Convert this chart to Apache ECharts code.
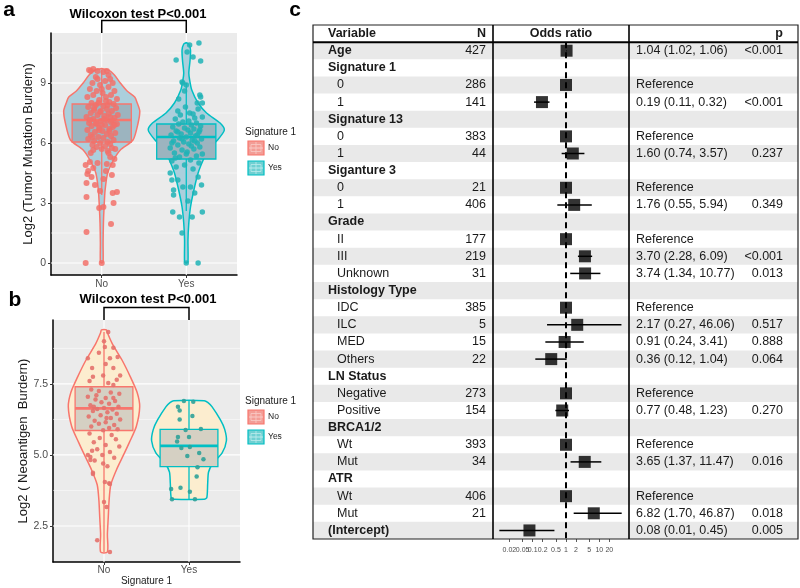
<!DOCTYPE html>
<html>
<head>
<meta charset="utf-8">
<script src="https://cdn.jsdelivr.net/npm/echarts@6/dist/echarts.min.js"></script>
<style>
  html, body { margin: 0; padding: 0; background: #fff; }
  #main { width: 800px; height: 588px; }
</style>
</head>
<body>
<div id="main"></div>
<script>
// ---------------- data ----------------
const groups = ["No", "Yes"];

// panel a : Log2 (Tumor Mutation Burden)
const tmbTicks = [0, 3, 6, 9];
const tmbMinor = [1.5, 4.5, 7.5, 10.5];
// violin outline: [value, half width]
const tmbViolinNo = [[0, 0], [0.05, 0.016], [1.0, 0.016], [2.0, 0.02], [2.8, 0.028], [3.65, 0.04], [4.5, 0.07],
  [5.15, 0.14], [5.65, 0.22], [6.15, 0.37], [7.0, 0.43], [7.6, 0.45], [8.0, 0.42], [8.3, 0.39],
  [8.6, 0.3], [9.0, 0.22], [9.4, 0.15], [9.65, 0.08], [9.72, 0]];
const tmbViolinYes = [[0, 0], [0.05, 0.02], [1.15, 0.02], [2.0, 0.03], [2.8, 0.05], [3.65, 0.09], [4.5, 0.14],
  [5.15, 0.2], [5.75, 0.27], [6.15, 0.37], [6.65, 0.45], [7.0, 0.4], [7.5, 0.24], [8.0, 0.14],
  [8.65, 0.065], [9.15, 0.04], [9.5, 0.03], [10.15, 0.045], [10.65, 0.05], [10.95, 0.03], [11.02, 0]];
// box: [min, q1, median, q3, max]
const tmbBoxNo = [3.4, 6.05, 7.15, 7.95, 9.65];
const tmbBoxYes = [2.6, 5.2, 6.3, 6.95, 9.0];
// jittered points: [x offset, value]
const tmbPointsNo = [
  [-0.19, 0.0], [0.0, 0.0], [-0.18, 1.55], [0.11, 1.95], [-0.03, 2.75], [0.02, 2.8], [-0.18, 3.3], [0.13, 3.5],
  [0.18, 3.55], [0.14, 3.0], [-0.18, 4.0], [-0.12, 4.3], [-0.16, 4.6], [-0.19, 4.9], [-0.14, 5.05], [0.1, 5.3],
  [0.12, 4.4], [-0.08, 3.9], [0.02, 4.2], [-0.02, 3.6], [0.05, 4.6], [-0.05, 5.0], [0.15, 5.2], [-0.13, 5.5],
  [0.08, 5.5], [0.16, 5.7], [-0.17, 4.45], [-0.1, 4.75], [0.06, 4.95], [0.13, 4.9],
  [-0.1, 9.7], [-0.05, 9.6], [0.02, 9.55], [0.06, 9.6], [-0.15, 9.65], [-0.13, 9.6], [0.1, 9.2], [-0.07, 9.3],
  [0.13, 9.0], [-0.11, 9.0], [0.04, 9.1], [-0.02, 8.9], [0.08, 8.8], [-0.14, 8.7], [0.15, 8.6], [-0.06, 8.6],
  [0.01, 8.5], [0.11, 8.4], [-0.1, 8.4], [-0.17, 8.3], [0.05, 8.3], [0.18, 8.2], [-0.03, 8.15], [0.09, 8.05],
  [-0.12, 8.0], [0.14, 7.95], [-0.07, 7.9], [0.02, 7.85], [-0.16, 7.8], [0.17, 7.75], [0.06, 7.7], [-0.09, 7.65],
  [0.12, 7.6], [-0.02, 7.55], [-0.13, 7.5], [0.08, 7.45], [0.19, 7.4], [-0.05, 7.4], [0.03, 7.35], [-0.18, 7.3],
  [0.15, 7.25], [-0.1, 7.2], [0.06, 7.15], [-0.01, 7.1], [0.11, 7.05], [-0.15, 7.0], [0.18, 6.95], [-0.06, 6.95],
  [0.04, 6.9], [-0.12, 6.85], [0.13, 6.8], [-0.03, 6.75], [0.09, 6.7], [-0.17, 6.65], [0.01, 6.6], [-0.08, 6.55],
  [0.16, 6.5], [0.06, 6.45], [-0.13, 6.4], [0.11, 6.35], [-0.04, 6.3], [0.02, 6.25], [-0.16, 6.2], [0.14, 6.15],
  [-0.09, 6.1], [0.07, 6.05], [-0.02, 6.0], [0.1, 5.95], [-0.11, 5.9], [0.04, 5.85], [-0.06, 5.8], [0.12, 5.75],
  [0.0, 5.7], [-0.1, 5.65], [0.07, 5.6], [-0.04, 8.0], [0.07, 7.9], [-0.01, 7.6], [0.1, 7.3], [-0.07, 7.0],
  [0.0, 6.9], [0.05, 8.1], [-0.09, 7.75], [0.03, 7.2], [-0.03, 6.65], [0.13, 7.1], [-0.14, 7.15], [0.09, 6.6],
  [-0.11, 6.3], [0.15, 6.9], [0.0, 8.7], [-0.05, 9.2], [0.08, 9.4]
];
const tmbPointsYes = [
  [0.04, 10.9], [0.15, 11.0], [-0.12, 10.15], [0.08, 10.3], [0.17, 10.1], [0.01, 10.55], [-0.05, 9.05], [0.0, 8.9],
  [0.17, 8.3], [0.13, 8.0], [-0.04, 9.0], [0.16, 8.4], [0.19, 8.0], [-0.02, 8.6], [-0.09, 8.2],
  [-0.16, 2.55], [0.19, 2.55], [-0.08, 2.3], [0.07, 2.3], [-0.05, 1.5], [0.14, 0.0], [0.0, 0.0], [-0.15, 3.4],
  [-0.04, 3.8], [0.05, 3.8], [0.18, 3.9], [-0.17, 4.15], [-0.19, 4.5], [0.14, 4.3], [-0.15, 3.65], [-0.1, 4.15],
  [0.02, 3.1], [0.1, 3.5],
  [-0.12, 4.8], [0.08, 4.7], [-0.02, 4.9], [0.15, 5.0], [-0.17, 5.1], [0.05, 5.15], [-0.08, 5.3], [0.12, 5.35],
  [0.19, 5.45], [-0.14, 5.5], [0.01, 5.55], [-0.05, 5.65], [0.09, 5.7], [-0.19, 5.75], [0.16, 5.8], [-0.1, 5.9],
  [0.03, 5.95], [0.13, 6.0], [-0.03, 6.05], [-0.15, 6.1], [0.07, 6.15], [0.18, 6.2], [-0.08, 6.25], [0.0, 6.3],
  [0.11, 6.35], [-0.18, 6.4], [-0.06, 6.45], [0.05, 6.5], [0.15, 6.55], [-0.12, 6.6], [0.02, 6.65], [0.09, 6.7],
  [-0.02, 6.75], [-0.16, 6.8], [0.17, 6.85], [0.06, 6.9], [-0.09, 6.95], [0.12, 7.0], [-0.04, 7.05], [0.03, 7.1],
  [-0.13, 7.2], [0.1, 7.25], [0.19, 7.3], [-0.07, 7.4], [0.04, 7.5], [-0.1, 7.6], [0.14, 7.7], [-0.01, 7.8],
  [0.08, 7.45], [-0.05, 6.2], [0.13, 6.4], [-0.1, 6.55], [0.06, 5.85], [-0.13, 5.25], [0.1, 6.1], [0.0, 5.45],
  [-0.17, 6.0], [0.16, 6.65]
];

// panel b : Log2 (Neoantigen Burden)
const neoTicks = [2.5, 5.0, 7.5];
const neoMinor = [3.75, 6.25, 8.75];
const neoViolinNo = [[1.58, 0.04], [2.2, 0.04], [2.8, 0.05], [3.4, 0.06], [3.95, 0.08], [4.5, 0.15], [5.0, 0.23],
  [5.45, 0.3], [6.0, 0.38], [6.7, 0.42], [7.2, 0.39], [7.75, 0.31], [8.35, 0.21], [8.9, 0.1], [9.3, 0.04], [9.4, 0.03]];
const neoViolinYes = [[3.44, 0.18], [3.5, 0.21], [4.0, 0.22], [4.4, 0.23], [4.7, 0.28], [5.07, 0.39], [5.5, 0.44],
  [5.9, 0.42], [6.23, 0.37], [6.7, 0.27], [6.85, 0.22], [6.91, 0.18]];
const neoBoxNo = [1.58, 5.86, 6.64, 7.4, 9.33];
const neoBoxYes = [3.44, 4.59, 5.32, 5.9, 6.91];
const neoPointsNo = [
  [-0.08, 2.0], [0.07, 1.58], [0.03, 3.17], [0.0, 3.34], [0.01, 4.05], [0.06, 4.0], [-0.13, 4.33], [-0.19, 5.0],
  [-0.16, 4.82], [-0.11, 4.8], [-0.01, 4.7], [0.04, 4.6], [0.07, 3.98], [-0.16, 4.93], [-0.13, 4.37],
  [0.05, 9.33], [0.01, 8.8], [0.11, 8.77], [-0.19, 8.4], [0.07, 8.4], [0.16, 8.45], [-0.14, 8.06], [0.11, 8.06],
  [0.19, 7.8], [-0.13, 7.75], [-0.01, 7.8], [0.05, 7.53], [0.11, 7.46], [-0.06, 8.6], [0.02, 8.2], [-0.17, 7.6],
  [0.15, 7.65], [0.0, 9.0],
  [-0.15, 7.3], [-0.06, 7.25], [0.08, 7.2], [0.18, 7.15], [-0.19, 7.05], [0.02, 7.0], [-0.1, 6.95], [0.13, 6.9],
  [-0.03, 6.85], [0.06, 6.8], [-0.16, 6.75], [0.17, 6.7], [0.0, 6.65], [-0.08, 6.62], [0.1, 6.6], [-0.13, 6.55],
  [0.04, 6.5], [0.15, 6.45], [-0.04, 6.4], [-0.18, 6.35], [0.08, 6.3], [0.19, 6.25], [-0.11, 6.2], [0.02, 6.15],
  [-0.06, 6.1], [0.12, 6.05], [-0.15, 6.0], [0.06, 5.95], [0.16, 5.9], [-0.01, 5.87], [-0.09, 7.1], [0.11, 7.0],
  [-0.12, 6.7], [0.03, 6.3],
  [-0.17, 5.75], [0.09, 5.7], [-0.05, 5.6], [0.14, 5.55], [-0.12, 5.45], [0.02, 5.35], [0.18, 5.3], [-0.08, 5.2],
  [0.07, 5.1], [-0.02, 5.0], [-0.14, 5.15], [0.12, 4.9]
];
const neoPointsYes = [
  [-0.13, 6.7], [-0.11, 6.56], [-0.11, 6.25], [0.04, 6.37], [-0.06, 6.9], [-0.04, 5.88], [0.14, 5.91], [-0.13, 5.63],
  [0.0, 5.63], [-0.14, 5.47], [-0.09, 5.24], [0.01, 5.28], [-0.02, 4.96], [0.17, 4.85], [0.1, 4.57], [0.09, 4.24],
  [-0.1, 3.84], [-0.21, 3.8], [0.01, 3.7], [-0.2, 3.44], [0.07, 3.44], [0.05, 6.87], [0.12, 5.07]
];

// panel c : logistic regression forest table
const forestVariable = ["Age", "Signature 1", "0", "1", "Signature 13", "0", "1", "Siganture 3", "0", "1",
  "Grade", "II", "III", "Unknown", "Histology Type", "IDC", "ILC", "MED", "Others", "LN Status",
  "Negative", "Positive", "BRCA1/2", "Wt", "Mut", "ATR", "Wt", "Mut", "(Intercept)"];
const forestHeaderRows = [0, 1, 4, 7, 10, 14, 19, 22, 25, 28];
const forestN = ["427", "", "286", "141", "", "383", "44", "", "21", "406", "", "177", "219", "31", "",
  "385", "5", "15", "22", "", "273", "154", "", "393", "34", "", "406", "21", ""];
const forestEst = [1.04, null, 1, 0.19, null, 1, 1.60, null, 1, 1.76, null, 1, 3.70, 3.74, null,
  1, 2.17, 0.91, 0.36, null, 1, 0.77, null, 1, 3.65, null, 1, 6.82, 0.08];
const forestLow = [1.02, null, null, 0.11, null, null, 0.74, null, null, 0.55, null, null, 2.28, 1.34, null,
  null, 0.27, 0.24, 0.12, null, null, 0.48, null, null, 1.37, null, null, 1.70, 0.01];
const forestHigh = [1.06, null, null, 0.32, null, null, 3.57, null, null, 5.94, null, null, 6.09, 10.77, null,
  null, 46.06, 3.41, 1.04, null, null, 1.23, null, null, 11.47, null, null, 46.87, 0.45];
const forestP = ["<0.001", "", "", "<0.001", "", "", "0.237", "", "", "0.349", "", "", "<0.001", "0.013", "",
  "", "0.517", "0.888", "0.064", "", "", "0.270", "", "", "0.016", "", "", "0.018", "0.005"];
const orTicks = [0.02, 0.05, 0.1, 0.2, 0.5, 1, 2, 5, 10, 20];
const orTickLabels = ["0.02", "0.05", "0.1", "0.2", "0.5", "1", "2", "5", "10", "20"];

// ---------------- layout / style ----------------
const FONT = '"Liberation Sans", Arial, Helvetica, sans-serif';
const RED = "#F8766D", TEAL = "#00BFC4";
const TABLE = { left: 313, top: 25, width: 485, height: 514 };
const COL = { nameX: 15, levelX: 24, nRight: 173, div1: 180, orCenter: 248, div2: 316, estX: 323, pRight: 470 };

function txt(text, x, y, align, font, fill) {
  return {
    type: "text",
    style: { text: text, x: x, y: y, align: align, verticalAlign: "middle", textAlign: align,
      textVerticalAlign: "middle", font: font, fill: fill || "#1a1a1a" }
  };
}

// ---------------- render helpers ----------------
function renderGridLine(params, api) {
  const cs = params.coordSys;
  const v = api.value(0), kind = api.value(1);
  if (kind === 2) {
    const x = api.coord([v, 5])[0];
    return { type: "line", shape: { x1: x, y1: cs.y, x2: x, y2: cs.y + cs.height },
      style: { stroke: "#fff", lineWidth: 1.1 } };
  }
  const y = api.coord([1, v])[1];
  return { type: "line", shape: { x1: cs.x, y1: y, x2: cs.x + cs.width, y2: y },
    style: { stroke: "#fff", lineWidth: kind === 0 ? 1.1 : 0.5 } };
}

function violinRenderer(profiles, fill, strokes) {
  return function (params, api) {
    const g = api.value(0);
    const prof = profiles[params.dataIndex];
    const pts = [];
    prof.forEach(function (p) { pts.push(api.coord([g + p[1], p[0]])); });
    for (let i = prof.length - 1; i >= 0; i--) pts.push(api.coord([g - prof[i][1], prof[i][0]]));
    return { type: "polygon", shape: { points: pts, smooth: 0.25 },
      style: { fill: fill, stroke: strokes[params.dataIndex], lineWidth: 1.5 } };
  };
}

function boxRenderer(halfWidth, fill, strokes) {
  return function (params, api) {
    const g = api.value(0);
    const stroke = strokes[params.dataIndex];
    const lo = api.coord([g, api.value(1)]), hi = api.coord([g, api.value(5)]);
    const q1l = api.coord([g - halfWidth, api.value(2)]), q3r = api.coord([g + halfWidth, api.value(4)]);
    const medL = api.coord([g - halfWidth, api.value(3)]), medR = api.coord([g + halfWidth, api.value(3)]);
    return {
      type: "group",
      children: [
        { type: "line", shape: { x1: lo[0], y1: lo[1], x2: hi[0], y2: hi[1] }, style: { stroke: stroke, lineWidth: 1.3 } },
        { type: "rect", shape: { x: q1l[0], y: q3r[1], width: q3r[0] - q1l[0], height: q1l[1] - q3r[1] },
          style: { fill: fill, stroke: stroke, lineWidth: 1.3 } },
        { type: "line", shape: { x1: medL[0], y1: medL[1], x2: medR[0], y2: medR[1] }, style: { stroke: stroke, lineWidth: 2.6 } }
      ]
    };
  };
}

function bracketRenderer(params, api) {
  const top = params.coordSys.y;
  const x1 = api.coord([1, 5])[0], x2 = api.coord([2, 5])[0];
  return { type: "polyline", shape: { points: [[x1, top], [x1, top - 12.5], [x2, top - 12.5], [x2, top]] },
    style: { stroke: "#000", lineWidth: 1.5, fill: null } };
}

function gridLineData(major, minor) {
  return major.map(v => [v, 0]).concat(minor.map(v => [v, 1]), [[1, 2], [2, 2]]);
}

function renderTableRow(params, api) {
  const r = api.value(1);
  const c = api.coord([0, r]);
  const y = c[1];
  const h = api.size([0, 1])[1];
  const X = v => api.coord([v, r])[0];
  const reg = "12.5px " + FONT, bold = "bold 12.5px " + FONT;
  const kids = [];
  if (r === 0) {
    kids.push(txt("Variable", X(COL.nameX), y, "left", bold), txt("N", X(COL.nRight), y, "right", bold),
      txt("Odds ratio", X(COL.orCenter), y, "center", bold), txt("p", X(COL.pRight), y, "right", bold));
  } else {
    const i = r - 1;
    if (i % 2 === 0) {
      kids.push({ type: "rect", shape: { x: c[0], y: y - h / 2, width: X(TABLE.width) - c[0], height: h },
        style: { fill: "#e9e9e9" } });
    }
    const isHead = forestHeaderRows.indexOf(i) >= 0;
    kids.push(txt(forestVariable[i], X(isHead ? COL.nameX : COL.levelX), y, "left", isHead ? bold : reg));
    kids.push(txt(forestN[i], X(COL.nRight), y, "right", reg));
    let est = "";
    if (forestLow[i] != null) est = forestEst[i].toFixed(2) + " (" + forestLow[i].toFixed(2) + ", " + forestHigh[i].toFixed(2) + ")";
    else if (forestEst[i] != null) est = "Reference";
    kids.push(txt(est, X(COL.estX), y, "left", reg));
    kids.push(txt(forestP[i], X(COL.pRight), y, "right", reg));
  }
  return { type: "group", children: kids };
}

function renderTableLines(params, api) {
  const h = api.size([0, 1])[1];
  const top = api.coord([0, 0])[1] - h / 2;
  const bottom = api.coord([0, forestVariable.length])[1] + h / 2;
  const left = api.coord([0, 0])[0], right = api.coord([TABLE.width, 0])[0];
  const d1 = api.coord([COL.div1, 0])[0], d2 = api.coord([COL.div2, 0])[0];
  return {
    type: "group",
    children: [
      { type: "rect", shape: { x: left, y: top, width: right - left, height: bottom - top },
        style: { fill: null, stroke: "#222", lineWidth: 1.2 } },
      { type: "line", shape: { x1: left, y1: top + h, x2: right, y2: top + h }, style: { stroke: "#000", lineWidth: 2 } },
      { type: "line", shape: { x1: d1, y1: top, x2: d1, y2: bottom }, style: { stroke: "#000", lineWidth: 1.6 } },
      { type: "line", shape: { x1: d2, y1: top, x2: d2, y2: bottom }, style: { stroke: "#000", lineWidth: 1.6 } }
    ]
  };
}

function renderCI(params, api) {
  const p1 = api.coord([api.value(0), api.value(2)]);
  const p2 = api.coord([api.value(1), api.value(2)]);
  return { type: "line", shape: { x1: p1[0], y1: p1[1], x2: p2[0], y2: p2[1] }, style: { stroke: "#000", lineWidth: 1.5 } };
}

// odds-ratio tick labels, placed through the log axis
function renderOrLabel(params, api) {
  const cs = params.coordSys;
  const x = api.coord([api.value(0), 0])[0];
  return txt(orTickLabels[params.dataIndex], x, cs.y + cs.height + 11, "center", "7px " + FONT, "#4d4d4d");
}

function legendKey(x, y, fill, stroke, inner) {
  return [
    { type: "rect", shape: { x: x, y: y, width: 16, height: 14 }, style: { fill: fill, stroke: stroke, lineWidth: 1.2 } },
    { type: "rect", shape: { x: x + 3, y: y + 3.5, width: 10, height: 7 }, style: { fill: null, stroke: inner, lineWidth: 0.8 } },
    { type: "line", shape: { x1: x + 1, y1: y + 7, x2: x + 15, y2: y + 7 }, style: { stroke: inner, lineWidth: 1 } },
    { type: "line", shape: { x1: x + 8, y1: y + 1, x2: x + 8, y2: y + 13 }, style: { stroke: inner, lineWidth: 0.8 } }
  ];
}

function legendBlock(titleY, keyY1, keyY2) {
  return [
    { type: "text", x: 245, y: titleY, style: { text: "Signature 1", font: "10px " + FONT, fill: "#1a1a1a", textVerticalAlign: "middle" } },
    { type: "text", x: 268, y: keyY1 + 7, style: { text: "No", font: "8.5px " + FONT, fill: "#1a1a1a", textVerticalAlign: "middle" } },
    { type: "text", x: 268, y: keyY2 + 7, style: { text: "Yes", font: "8.5px " + FONT, fill: "#1a1a1a", textVerticalAlign: "middle" } }
  ].concat(legendKey(248, keyY1, "#f39d96", RED, "#f9cbc7"), legendKey(248, keyY2, "#6fd0d2", TEAL, "#bdebec"));
}

function catAxis(gridIndex, extra) {
  return Object.assign({
    type: "value", gridIndex: gridIndex, min: 0.4, max: 2.6,
    axisLine: { show: true, onZero: false, lineStyle: { color: "#000", width: 1.5 } },
    axisTick: { show: true, customValues: [1, 2], length: 3, lineStyle: { color: "#333" } },
    axisLabel: { customValues: [1, 2], formatter: v => groups[Math.round(v) - 1], color: "#4d4d4d", fontSize: 10, fontFamily: FONT, margin: 4 },
    splitLine: { show: false }
  }, extra || {});
}

function valAxis(gridIndex, min, max, ticks, fmt, name, gap) {
  return {
    type: "value", gridIndex: gridIndex, min: min, max: max,
    name: name, nameLocation: "middle", nameGap: gap, nameRotate: 90,
    nameTextStyle: { fontSize: 13, fontFamily: FONT, color: "#1a1a1a" },
    axisLine: { show: true, onZero: false, lineStyle: { color: "#000", width: 1.5 } },
    axisTick: { show: true, customValues: ticks, length: 3, lineStyle: { color: "#333" } },
    axisLabel: { customValues: ticks, formatter: fmt, color: "#4d4d4d", fontSize: 10.5, fontFamily: FONT, margin: 5 },
    splitLine: { show: false }
  };
}

const chart = echarts.init(document.getElementById("main"));
chart.setOption({
  animation: false,
  grid: [
    { left: 51, top: 33, width: 186, height: 242, show: true, backgroundColor: "#ebebeb", borderWidth: 0 },
    { left: 53, top: 320, width: 187, height: 242, show: true, backgroundColor: "#ebebeb", borderWidth: 0 },
    { left: TABLE.left, top: TABLE.top, width: TABLE.width, height: TABLE.height },
    { left: TABLE.left + COL.div1, top: TABLE.top + TABLE.height / (forestVariable.length + 1),
      width: COL.div2 - COL.div1, height: TABLE.height * forestVariable.length / (forestVariable.length + 1) }
  ],
  xAxis: [
    catAxis(0),
    catAxis(1, { name: "Signature 1", nameLocation: "middle", nameGap: 13,
      nameTextStyle: { fontSize: 10, fontFamily: FONT, color: "#1a1a1a" },
      axisLabel: { customValues: [1, 2], formatter: v => groups[Math.round(v) - 1], color: "#4d4d4d", fontSize: 10, fontFamily: FONT, margin: 3 } }),
    { type: "value", gridIndex: 2, min: 0, max: TABLE.width, show: false },
    { type: "log", logBase: 10, gridIndex: 3, min: 0.00645, max: 77.7,
      axisLine: { show: false },
      axisTick: { show: true, customValues: orTicks, length: 3, lineStyle: { color: "#333", width: 0.8 } },
      axisLabel: { show: false },
      splitLine: { show: false } }
  ],
  yAxis: [
    valAxis(0, -0.6, 11.5, tmbTicks, v => String(Math.round(v)), "Log2 (Tumor Mutation Burdern)", 16),
    valAxis(1, 1.23, 9.75, neoTicks, v => (+v).toFixed(1), "Log2 ( Neoantigen  Burdern)", 19),
    { type: "category", gridIndex: 2, inverse: true, show: false,
      data: ["header"].concat(forestVariable.map((v, i) => String(i))) },
    { type: "category", gridIndex: 3, inverse: true, show: false, data: forestVariable.map((v, i) => String(i)) }
  ],
  graphic: [
    { type: "text", x: 9, y: 10, style: { text: "a", font: "bold 21px " + FONT, fill: "#000", textAlign: "center", textVerticalAlign: "middle" } },
    { type: "text", x: 15, y: 300, style: { text: "b", font: "bold 21px " + FONT, fill: "#000", textAlign: "center", textVerticalAlign: "middle" } },
    { type: "text", x: 295, y: 10, style: { text: "c", font: "bold 21px " + FONT, fill: "#000", textAlign: "center", textVerticalAlign: "middle" } },
    { type: "text", x: 138, y: 14, style: { text: "Wilcoxon test P<0.001", font: "bold 13px " + FONT, fill: "#000", textAlign: "center", textVerticalAlign: "middle" } },
    { type: "text", x: 148, y: 299, style: { text: "Wilcoxon test P<0.001", font: "bold 13px " + FONT, fill: "#000", textAlign: "center", textVerticalAlign: "middle" } }
  ].concat(legendBlock(132, 141, 161), legendBlock(401, 410, 430)),
  series: [
    // ----- panel a -----
    { type: "custom", xAxisIndex: 0, yAxisIndex: 0, z: 1, renderItem: renderGridLine, data: gridLineData(tmbTicks, tmbMinor) },
    { type: "custom", xAxisIndex: 0, yAxisIndex: 0, z: 2, data: [[1, 5], [2, 5]],
      renderItem: violinRenderer([tmbViolinNo, tmbViolinYes], "#abcfdc", [RED, TEAL]) },
    { type: "custom", xAxisIndex: 0, yAxisIndex: 0, z: 3, data: [[1].concat(tmbBoxNo), [2].concat(tmbBoxYes)],
      encode: { x: 0, y: [1, 2, 3, 4, 5] }, renderItem: boxRenderer(0.35, "#9cb4bf", [RED, TEAL]) },
    { type: "scatter", xAxisIndex: 0, yAxisIndex: 0, z: 4, symbolSize: 6,
      itemStyle: { color: "#f2716a", opacity: 0.85 }, data: tmbPointsNo.map(p => [1 + p[0], p[1]]) },
    { type: "scatter", xAxisIndex: 0, yAxisIndex: 0, z: 4, symbolSize: 5.5,
      itemStyle: { color: "#1fb3b6", opacity: 0.85 }, data: tmbPointsYes.map(p => [2 + p[0], p[1]]) },
    { type: "custom", xAxisIndex: 0, yAxisIndex: 0, z: 5, data: [[1, 5]], renderItem: bracketRenderer },
    // ----- panel b -----
    { type: "custom", xAxisIndex: 1, yAxisIndex: 1, z: 1, renderItem: renderGridLine, data: gridLineData(neoTicks, neoMinor) },
    { type: "custom", xAxisIndex: 1, yAxisIndex: 1, z: 2, data: [[1, 5], [2, 5]],
      renderItem: violinRenderer([neoViolinNo, neoViolinYes], "#fcedcf", [RED, TEAL]) },
    { type: "custom", xAxisIndex: 1, yAxisIndex: 1, z: 3, data: [[1].concat(neoBoxNo), [2].concat(neoBoxYes)],
      encode: { x: 0, y: [1, 2, 3, 4, 5] }, renderItem: boxRenderer(0.34, "#d5d0c3", [RED, TEAL]) },
    { type: "scatter", xAxisIndex: 1, yAxisIndex: 1, z: 4, symbolSize: 4.5,
      itemStyle: { color: "#e4716b", opacity: 0.9 }, data: neoPointsNo.map(p => [1 + p[0], p[1]]) },
    { type: "scatter", xAxisIndex: 1, yAxisIndex: 1, z: 4, symbolSize: 4.5,
      itemStyle: { color: "#2fa198", opacity: 0.9 }, data: neoPointsYes.map(p => [2 + p[0], p[1]]) },
    { type: "custom", xAxisIndex: 1, yAxisIndex: 1, z: 5, data: [[1, 5]], renderItem: bracketRenderer },
    // ----- panel c -----
    { type: "custom", xAxisIndex: 2, yAxisIndex: 2, z: 1, renderItem: renderTableRow,
      data: [[0, 0]].concat(forestVariable.map((v, i) => [0, i + 1])) },
    { type: "custom", xAxisIndex: 2, yAxisIndex: 2, z: 6, renderItem: renderTableLines, data: [[0, 0]] },
    { type: "custom", xAxisIndex: 3, yAxisIndex: 3, z: 3, renderItem: renderCI, encode: { x: [0, 1], y: 2 },
      data: forestEst.map((e, i) => forestLow[i] != null ? [forestLow[i], forestHigh[i], i] : null).filter(d => d) },
    { type: "custom", xAxisIndex: 3, yAxisIndex: 3, z: 3, renderItem: renderOrLabel, clip: false,
      encode: { x: 0, y: 1 }, data: orTicks.map(v => [v, 0]) },
    { type: "scatter", xAxisIndex: 3, yAxisIndex: 3, z: 4, symbol: "rect", symbolSize: 12,
      itemStyle: { color: "#000" },
      data: forestEst.map((e, i) => e != null ? [e, i] : null).filter(d => d),
      markLine: { silent: true, symbol: "none", z: 3, label: { show: false },
        lineStyle: { color: "#000", width: 2, type: [6, 4] }, data: [{ xAxis: 1 }] } }
  ]
});
</script>
</body>
</html>
